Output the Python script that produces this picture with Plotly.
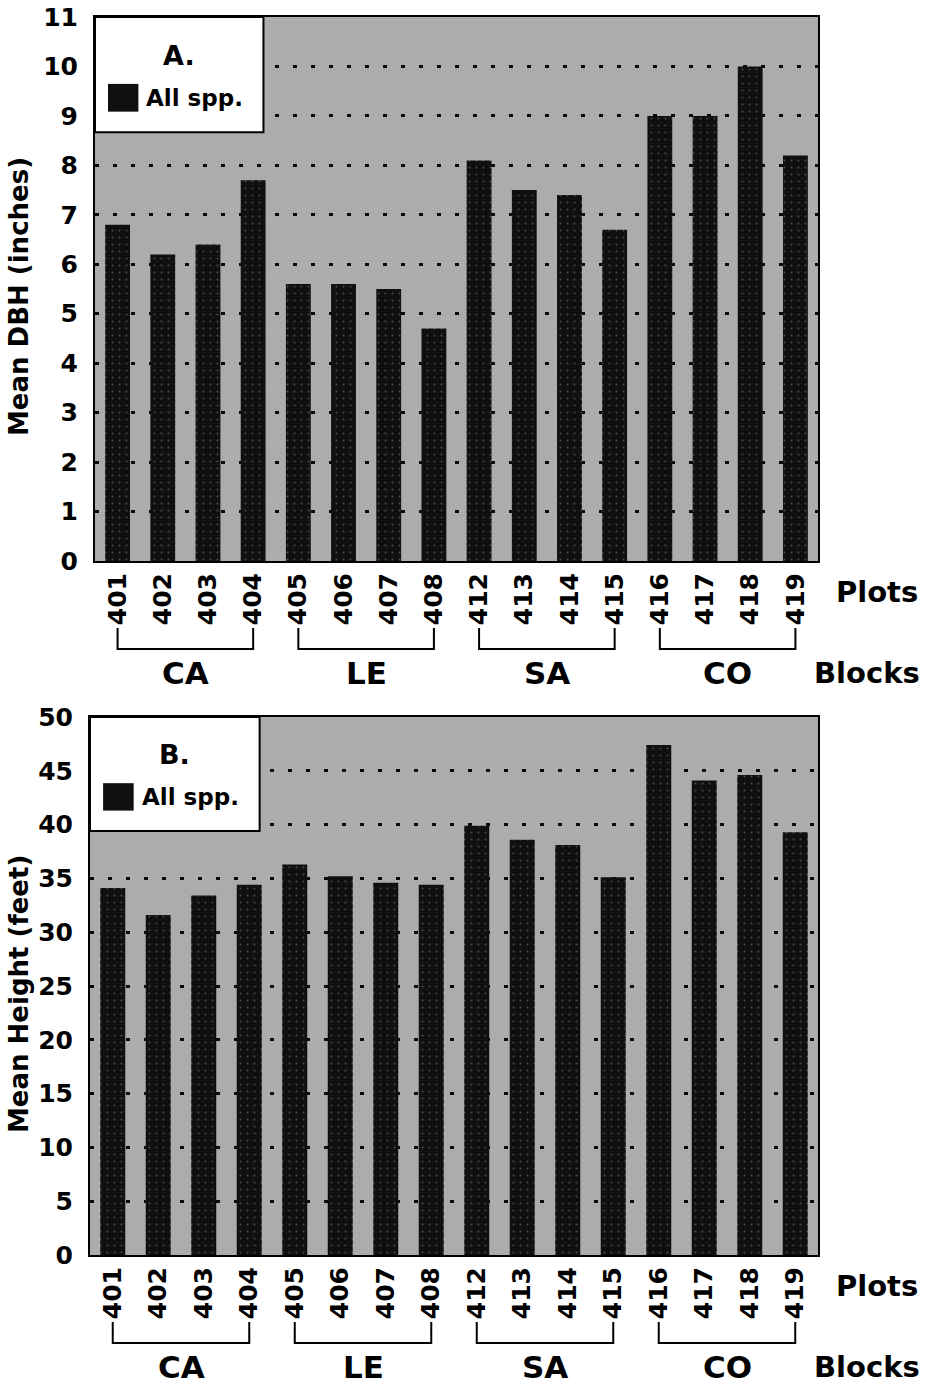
import plotly.graph_objects as go

# Plot numbers and the block each group of four plots belongs to
plots = ["401", "402", "403", "404", "405", "406", "407", "408",
         "412", "413", "414", "415", "416", "417", "418", "419"]
blocks = ["CA", "LE", "SA", "CO"]
block_size = 4

# Mean diameter at breast height (inches), all species
mean_dbh = [6.8, 6.2, 6.4, 7.7, 5.6, 5.6, 5.5, 4.7,
            8.1, 7.5, 7.4, 6.7, 9.0, 9.0, 10.0, 8.2]
# Mean tree height (feet), all species
mean_height = [34.1, 31.6, 33.4, 34.4, 36.3, 35.2, 34.6, 34.4,
               39.9, 38.6, 38.1, 35.1, 47.4, 44.1, 44.6, 39.3]

W, H = 925, 1387
FONT = "DejaVu Sans"
BG = "#acacac"
BAR = "#101010"


def py(pix):
    """Pixel row from the top of the page -> paper y."""
    return 1 - pix / H


def px(pix):
    return pix / W


panels = [
    dict(name="A.", values=mean_dbh, ytitle="Mean DBH (inches)", yrange=[0, 11], dtick=1,
         left=95, right=818, top=17, bottom=561, xa="x", ya="y"),
    dict(name="B.", values=mean_height, ytitle="Mean Height (feet)", yrange=[0, 50], dtick=5,
         left=90, right=818, top=717, bottom=1255, xa="x2", ya="y2"),
]

fig = go.Figure()
shapes, annotations = [], []

for i, p in enumerate(panels):
    sfx = "" if i == 0 else str(i + 1)
    fig.add_trace(go.Bar(
        x=plots, y=p["values"], xaxis=p["xa"], yaxis=p["ya"],
        marker=dict(color=BAR, line=dict(width=0),
                    pattern=dict(shape=".", fgcolor="#4a4a4a", bgcolor=BAR,
                                 size=7, solidity=0.06)),
        showlegend=False, hoverinfo="x+y",
    ))

    fig.layout["xaxis" + sfx] = dict(
        domain=[px(p["left"]), px(p["right"])], anchor=p["ya"],
        type="category", tickangle=-90,
        tickfont=dict(family=FONT, size=25, color="black", weight="bold"),
        showline=True, linecolor="black", linewidth=2, mirror=True,
        showgrid=False, ticks="", automargin=False, fixedrange=True,
    )
    fig.layout["yaxis" + sfx] = dict(
        domain=[py(p["bottom"]), py(p["top"])], anchor=p["xa"],
        range=p["yrange"], dtick=p["dtick"], tick0=0,
        tickfont=dict(family=FONT, size=25, color="black", weight="bold"),
        ticklabelstandoff=10,
        showline=True, linecolor="black", linewidth=2, mirror=True,
        showgrid=True, gridcolor="#0a0a0a", gridwidth=3, griddash="4px,14px",
        zeroline=False, ticks="", automargin=False, fixedrange=True,
    )

    xd, yd = p["xa"] + " domain", p["ya"] + " domain"

    # white key box in the upper-left corner
    shapes.append(dict(type="rect", xref=xd, yref=yd, x0=0, x1=0.233, y0=0.788, y1=1,
                       fillcolor="white", line=dict(color="black", width=2), layer="above"))
    shapes.append(dict(type="rect", xref=xd, yref=yd, x0=0.018, x1=0.06, y0=0.826, y1=0.877,
                       fillcolor=BAR, line=dict(width=0), layer="above"))
    annotations.append(dict(text=p["name"], xref=xd, yref=yd, x=0.116, y=0.93,
                            showarrow=False, xanchor="center", yanchor="middle",
                            font=dict(family=FONT, size=27, color="black", weight="bold")))
    annotations.append(dict(text="All spp.", xref=xd, yref=yd, x=0.068, y=0.851,
                            showarrow=False, xanchor="left", yanchor="middle",
                            font=dict(family=FONT, size=23, color="black", weight="bold")))

    # y-axis title
    annotations.append(dict(text=p["ytitle"], xref="paper", yref="paper",
                            x=px(19), y=py((p["top"] + p["bottom"]) / 2 + 8),
                            textangle=-90, showarrow=False,
                            xanchor="center", yanchor="middle",
                            font=dict(family=FONT, size=26, color="black", weight="bold")))

    # "Plots" and "Blocks" captions at the right
    b = p["bottom"]
    annotations.append(dict(text="Plots", xref="paper", yref="paper", x=px(877), y=py(b + 31),
                            showarrow=False, xanchor="center", yanchor="middle",
                            font=dict(family=FONT, size=29, color="black", weight="bold")))
    annotations.append(dict(text="Blocks", xref="paper", yref="paper", x=px(867), y=py(b + 112),
                            showarrow=False, xanchor="center", yanchor="middle",
                            font=dict(family=FONT, size=29, color="black", weight="bold")))

    # brackets grouping the plots into blocks
    for k, blk in enumerate(blocks):
        first = k * block_size
        last = first + block_size - 1
        y_top, y_bot = py(b + 67), py(b + 88)
        shapes.append(dict(type="path", xref=p["xa"], yref="paper",
                           path=f"M {first},{y_top} L {first},{y_bot} L {last},{y_bot} L {last},{y_top}",
                           line=dict(color="black", width=2)))
        annotations.append(dict(text=blk, xref=p["xa"], yref="paper",
                                x=(first + last) / 2, y=py(b + 112),
                                showarrow=False, xanchor="center", yanchor="middle",
                                font=dict(family=FONT, size=31, color="black", weight="bold")))

fig.update_layout(
    width=W, height=H,
    margin=dict(l=0, r=0, t=0, b=0),
    template="none",
    paper_bgcolor="white",
    plot_bgcolor=BG,
    bargap=0.45,
    shapes=shapes,
    annotations=annotations,
    showlegend=False,
)

fig.write_html("out.html")
